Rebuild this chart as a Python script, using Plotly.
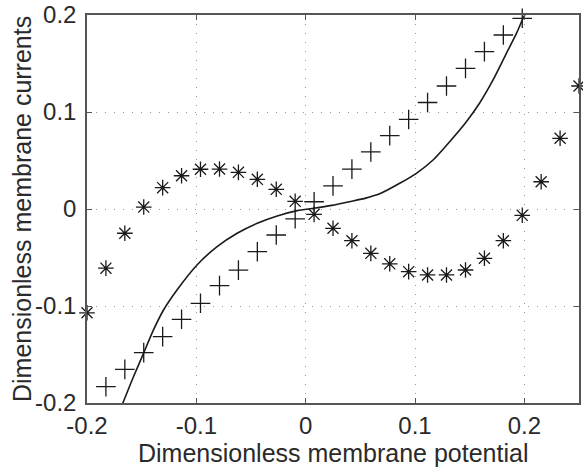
import plotly.graph_objects as go

# Sample positions (dimensionless membrane potential)
x_star = [-0.2, -0.1827, -0.1654, -0.1481, -0.1308, -0.1135, -0.0962, -0.0788,
          -0.0615, -0.0442, -0.0269, -0.0096, 0.0077, 0.0250, 0.0423, 0.0596,
          0.0769, 0.0942, 0.1115, 0.1288, 0.1462, 0.1635, 0.1808, 0.1981,
          0.2154, 0.2327, 0.25]
y_star = [-0.107, -0.061, -0.025, 0.002, 0.022, 0.0343, 0.041, 0.0412,
          0.0378, 0.0306, 0.0203, 0.0079, -0.0055, -0.0199, -0.0327, -0.0457,
          -0.0565, -0.0646, -0.068, -0.068, -0.0629, -0.0508, -0.0327, -0.0065,
          0.0281, 0.0729, 0.1268]

x_plus = [-0.1827, -0.1654, -0.1481, -0.1308, -0.1135, -0.0962, -0.0788,
          -0.0615, -0.0442, -0.0269, -0.0096, 0.0077, 0.0250, 0.0423, 0.0596,
          0.0769, 0.0942, 0.1115, 0.1288, 0.1462, 0.1635, 0.1808, 0.1981]
y_plus = [-0.1832, -0.1653, -0.1481, -0.1316, -0.1137, -0.0972, -0.079,
          -0.063, -0.044, -0.0268, -0.0101, 0.0075, 0.0238, 0.0411, 0.0588,
          0.0756, 0.0923, 0.1098, 0.1268, 0.145, 0.1622, 0.1794, 0.1966]

x_curve = [-0.1673, -0.1575, -0.1483, -0.1392, -0.130, -0.1177, -0.0994, -0.081,
           -0.0627, -0.0443, -0.026, -0.0076, 0.0076, 0.024, 0.040, 0.0550,
           0.0687, 0.086, 0.1013, 0.1165, 0.1317, 0.147, 0.159, 0.1714, 0.1836,
           0.1928, 0.1988, 0.2005]
y_curve = [-0.2003, -0.1729, -0.1488, -0.1247, -0.1041, -0.0835, -0.0577, -0.0388,
           -0.025, -0.0147, -0.0072, -0.0017, 0.0007, 0.0037, 0.0075, 0.0112,
           0.0162, 0.0265, 0.0368, 0.0505, 0.0694, 0.090, 0.109, 0.133, 0.1605,
           0.181, 0.1966, 0.2]

x_ticks = [-0.2, -0.1, 0, 0.1, 0.2]
x_tick_labels = ["-0.2", "-0.1", "0", "0.1", "0.2"]
y_ticks = [-0.2, -0.1, 0, 0.1, 0.2]
y_tick_labels = ["-0.2", "-0.1", "0", "0.1", "0.2"]

FONT = "Liberation Sans, Arial, Helvetica, sans-serif"
AX = "#555555"
TXT = "#2a2a2a"
INK = "#1a1a1a"

fig = go.Figure()
fig.add_trace(go.Scatter(x=x_curve, y=y_curve, mode="lines",
                         line=dict(color=INK, width=1.6, shape="spline", smoothing=0.6),
                         showlegend=False))
fig.add_trace(go.Scatter(x=x_plus, y=y_plus, mode="markers",
                         marker=dict(symbol="cross-thin-open", size=14, color=INK,
                                     line=dict(color=INK, width=1.3)),
                         showlegend=False, cliponaxis=False))
fig.add_trace(go.Scatter(x=x_star, y=y_star, mode="markers",
                         marker=dict(symbol="asterisk-open", size=13, color=INK,
                                     line=dict(color=INK, width=1.3)),
                         showlegend=False, cliponaxis=False))

axis_common = dict(
    showline=True, linecolor=AX, linewidth=1.5, mirror="ticks",
    ticks="inside", ticklen=5, tickcolor=AX, tickwidth=1.2,
    showgrid=True, gridcolor="#9a9a9a", gridwidth=1, griddash="1px,8px",
    zeroline=False, automargin=False, ticklabeloverflow="allow",
    tickfont=dict(family=FONT, size=24, color=TXT),
)

fig.update_xaxes(range=[-0.2, 0.25], tickvals=x_ticks, ticktext=x_tick_labels,
                 ticklabelstandoff=0, **axis_common)
fig.update_yaxes(range=[-0.2, 0.2], tickvals=y_ticks, ticktext=y_tick_labels,
                 ticklabelstandoff=4, **axis_common)

fig.add_annotation(text="Dimensionless membrane potential", xref="paper", yref="paper",
                   x=0.501, y=-0.13, xanchor="center", yanchor="middle",
                   showarrow=False, font=dict(family=FONT, size=25, color=TXT))
fig.add_annotation(text="Dimensionless membrane currents", xref="paper", yref="paper",
                   x=-0.132, y=0.5, xanchor="center", yanchor="middle", textangle=-90,
                   showarrow=False, font=dict(family=FONT, size=25, color=TXT))

fig.update_layout(width=583, height=473,
                  margin=dict(l=87, r=4, t=15, b=70, pad=0),
                  plot_bgcolor="white", paper_bgcolor="white", hovermode=False)

# remove the browser's default 8px body margin so the figure fills the window
fig.write_html("out.html", config={"displayModeBar": False},
               post_script="document.body.style.margin='0';document.body.style.overflow='hidden';")
